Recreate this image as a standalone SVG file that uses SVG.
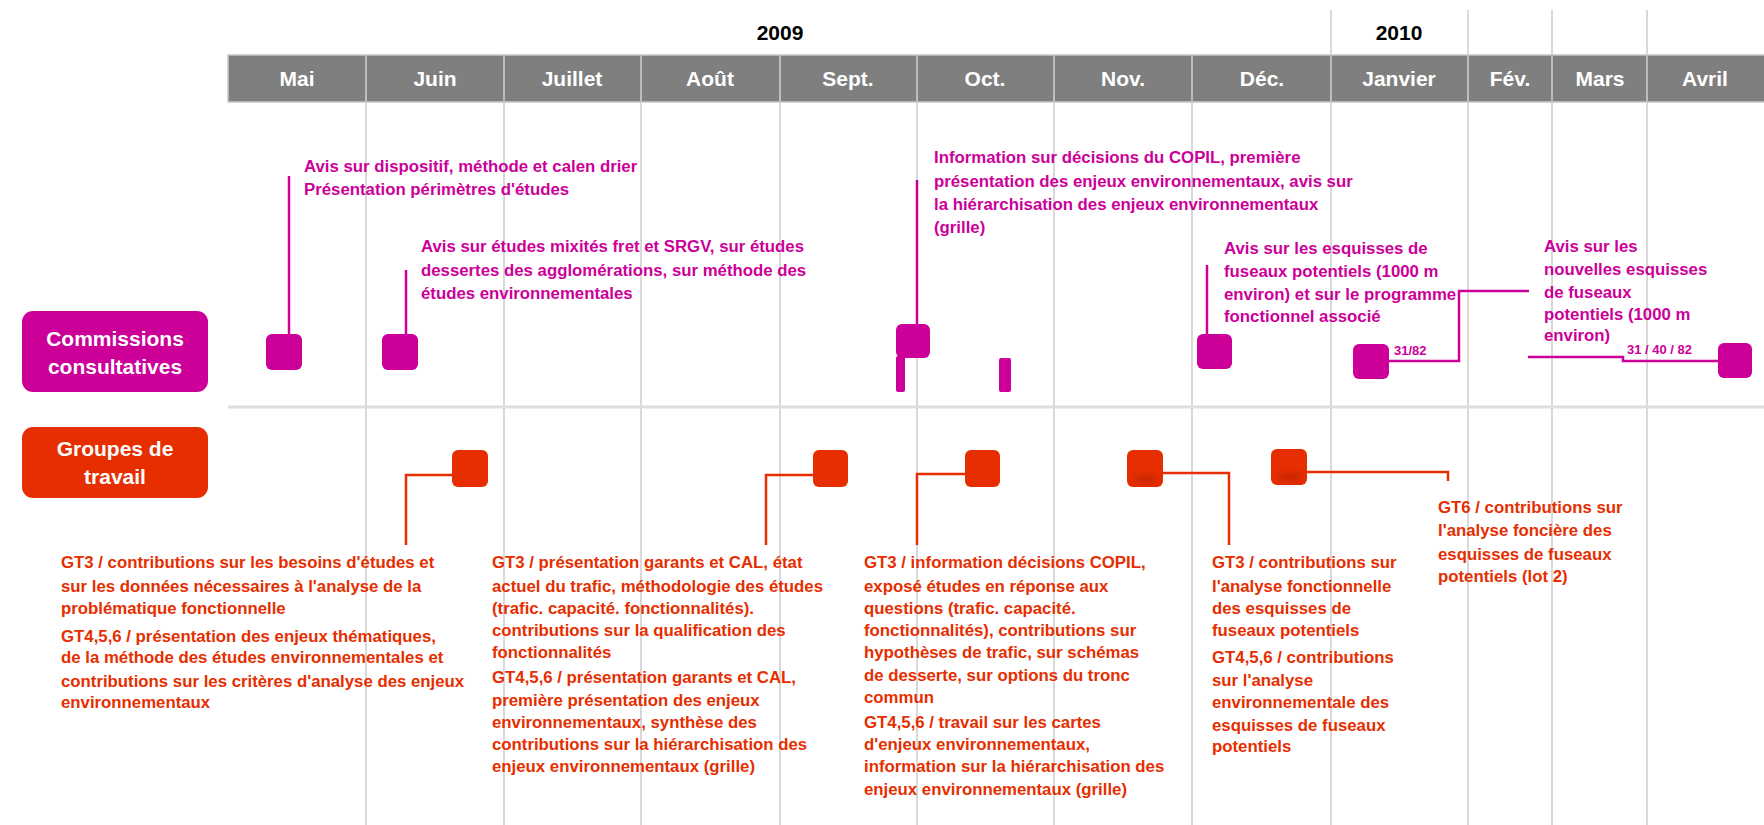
<svg xmlns="http://www.w3.org/2000/svg" width="1764" height="825" viewBox="0 0 1764 825">
<style>
.grid{stroke:#d9d9d9;stroke-width:2;fill:none}
.sep{stroke:#bdbdbd;stroke-width:2}
.mon{font-family:"Liberation Sans",Arial,sans-serif;font-weight:bold;font-size:21px;fill:#ffffff;text-anchor:middle}
.yr{font-family:"Liberation Sans",Arial,sans-serif;font-weight:bold;font-size:21px;fill:#000000;text-anchor:middle}
.lab{font-family:"Liberation Sans",Arial,sans-serif;font-weight:bold;font-size:21px;fill:#ffffff;text-anchor:middle}
.cc{fill:#cc0099}
.gt{fill:#e62e00}
.cct{font-family:"Liberation Sans",Arial,sans-serif;font-weight:bold;font-size:16.8px;fill:#cc0099}
.gtt{font-family:"Liberation Sans",Arial,sans-serif;font-weight:bold;font-size:16.8px;fill:#e62e00}
.small{font-family:"Liberation Sans",Arial,sans-serif;font-weight:bold;font-size:13px;fill:#cc0099}
.ccl{stroke:#cc0099;stroke-width:2.5;fill:none}
.gtl{stroke:#e62e00;stroke-width:2.5;fill:none}
</style>
<defs>
<filter id="blur" x="-50%" y="-50%" width="200%" height="200%"><feGaussianBlur stdDeviation="3"/></filter>
</defs>
<rect width="1764" height="825" fill="#ffffff"/>
<g id="grid">
<line class="grid" x1="366" y1="102" x2="366" y2="825"/>
<line class="grid" x1="504" y1="102" x2="504" y2="825"/>
<line class="grid" x1="641" y1="102" x2="641" y2="825"/>
<line class="grid" x1="780" y1="102" x2="780" y2="825"/>
<line class="grid" x1="917" y1="102" x2="917" y2="825"/>
<line class="grid" x1="1054" y1="102" x2="1054" y2="825"/>
<line class="grid" x1="1192" y1="102" x2="1192" y2="825"/>
<line class="grid" x1="1331" y1="10" x2="1331" y2="825"/>
<line class="grid" x1="1468" y1="10" x2="1468" y2="825"/>
<line class="grid" x1="1552" y1="10" x2="1552" y2="825"/>
<line class="grid" x1="1647" y1="10" x2="1647" y2="825"/>
<line x1="228" y1="407" x2="1764" y2="407" stroke="#dedede" stroke-width="3"/>
</g>
<g id="header">
<rect x="228" y="55" width="1540" height="47" fill="#7f7f7f" stroke="#c8c8c8" stroke-width="1.5"/>
<line class="sep" x1="366" y1="55" x2="366" y2="102"/>
<line class="sep" x1="504" y1="55" x2="504" y2="102"/>
<line class="sep" x1="641" y1="55" x2="641" y2="102"/>
<line class="sep" x1="780" y1="55" x2="780" y2="102"/>
<line class="sep" x1="917" y1="55" x2="917" y2="102"/>
<line class="sep" x1="1054" y1="55" x2="1054" y2="102"/>
<line class="sep" x1="1192" y1="55" x2="1192" y2="102"/>
<line class="sep" x1="1331" y1="55" x2="1331" y2="102"/>
<line class="sep" x1="1468" y1="55" x2="1468" y2="102"/>
<line class="sep" x1="1552" y1="55" x2="1552" y2="102"/>
<line class="sep" x1="1647" y1="55" x2="1647" y2="102"/>
<text class="yr" x="780" y="40">2009</text>
<text class="yr" x="1399" y="40">2010</text>
<text class="mon" x="297" y="86">Mai</text>
<text class="mon" x="435" y="86">Juin</text>
<text class="mon" x="572" y="86">Juillet</text>
<text class="mon" x="710" y="86">Août</text>
<text class="mon" x="848" y="86">Sept.</text>
<text class="mon" x="985" y="86">Oct.</text>
<text class="mon" x="1123" y="86">Nov.</text>
<text class="mon" x="1262" y="86">Déc.</text>
<text class="mon" x="1399" y="86">Janvier</text>
<text class="mon" x="1510" y="86">Fév.</text>
<text class="mon" x="1600" y="86">Mars</text>
<text class="mon" x="1705" y="86">Avril</text>
</g>
<g id="label-cc">
<rect class="cc" x="22" y="311" width="186" height="81" rx="11"/>
<text class="lab" x="115" y="346">Commissions</text>
<text class="lab" x="115" y="374">consultatives</text>
</g>
<g id="label-gt">
<rect class="gt" x="22" y="427" width="186" height="71" rx="11"/>
<text class="lab" x="115" y="456" font-size="20">Groupes de</text>
<text class="lab" x="115" y="484" font-size="20">travail</text>
</g>
<g id="connectors">
<line class="ccl" x1="289" y1="176" x2="289" y2="345"/>
<line class="ccl" x1="406" y1="270" x2="406" y2="352"/>
<line class="ccl" x1="917" y1="180" x2="917" y2="335"/>
<line class="ccl" x1="1207" y1="265" x2="1207" y2="345"/>
<polyline class="ccl" points="1389,361 1459,361 1459,291 1529,291"/>
<polyline class="ccl" points="1528,357 1623,357 1623,361 1718,361"/>
<polyline class="gtl" points="452,475 406,475 406,545"/>
<polyline class="gtl" points="813,475 766,475 766,545"/>
<polyline class="gtl" points="965,474 917,474 917,545"/>
<polyline class="gtl" points="1163,473 1229,473 1229,545"/>
<polyline class="gtl" points="1307,472 1448,472 1448,481"/>
</g>
<g id="cc-mai">
<rect class="cc" x="266" y="334" width="36" height="36" rx="6"/>
<text class="cct" x="304" y="172">Avis sur dispositif, méthode et calen drier</text>
<text class="cct" x="304" y="195">Présentation périmètres d'études</text>
</g>
<g id="cc-juin">
<rect class="cc" x="382" y="334" width="36" height="36" rx="6"/>
<text class="cct" x="421" y="252">Avis sur études mixités fret et SRGV, sur études</text>
<text class="cct" x="421" y="276">dessertes des agglomérations, sur méthode des</text>
<text class="cct" x="421" y="299">études environnementales</text>
</g>
<g id="cc-oct">
<rect class="cc" x="896" y="324" width="34" height="34" rx="6"/>
<rect class="cc" x="896" y="356" width="9" height="36" rx="2"/>
<rect class="cc" x="999" y="358" width="12" height="34" rx="2"/>
<text class="cct" x="934" y="163">Information sur décisions du COPIL, première</text>
<text class="cct" x="934" y="187">présentation des enjeux environnementaux, avis sur</text>
<text class="cct" x="934" y="210">la hiérarchisation des enjeux environnementaux</text>
<text class="cct" x="934" y="233">(grille)</text>
</g>
<g id="cc-dec">
<rect class="cc" x="1197" y="334" width="35" height="35" rx="6"/>
<text class="cct" x="1224" y="254">Avis sur les esquisses de</text>
<text class="cct" x="1224" y="277">fuseaux potentiels (1000 m</text>
<text class="cct" x="1224" y="300">environ) et sur le programme</text>
<text class="cct" x="1224" y="322">fonctionnel associé</text>
</g>
<g id="cc-janvier">
<rect class="cc" x="1353" y="344" width="36" height="35" rx="6"/>
<text class="small" x="1394" y="355">31/82</text>
</g>
<g id="cc-avril">
<rect class="cc" x="1718" y="343" width="34" height="35" rx="6"/>
<text class="small" x="1627" y="354">31 / 40 / 82</text>
<text class="cct" x="1544" y="252">Avis sur les</text>
<text class="cct" x="1544" y="275">nouvelles esquisses</text>
<text class="cct" x="1544" y="298">de fuseaux</text>
<text class="cct" x="1544" y="320">potentiels (1000 m</text>
<text class="cct" x="1544" y="341">environ)</text>
</g>
<g id="gt-juin">
<rect class="gt" x="452" y="450" width="36" height="37" rx="6"/>
<text class="gtt" x="61" y="568">GT3 / contributions sur les besoins d'études et</text>
<text class="gtt" x="61" y="592">sur les données nécessaires à l'analyse de la</text>
<text class="gtt" x="61" y="614">problématique fonctionnelle</text>
<text class="gtt" x="61" y="642">GT4,5,6 / présentation des enjeux thématiques,</text>
<text class="gtt" x="61" y="663">de la méthode des études environnementales et</text>
<text class="gtt" x="61" y="687">contributions sur les critères d'analyse des enjeux</text>
<text class="gtt" x="61" y="708">environnementaux</text>
</g>
<g id="gt-sept">
<rect class="gt" x="813" y="450" width="35" height="37" rx="6"/>
<text class="gtt" x="492" y="568">GT3 / présentation garants et CAL, état</text>
<text class="gtt" x="492" y="592">actuel du trafic, méthodologie des études</text>
<text class="gtt" x="492" y="614">(trafic. capacité. fonctionnalités).</text>
<text class="gtt" x="492" y="636">contributions sur la qualification des</text>
<text class="gtt" x="492" y="658">fonctionnalités</text>
<text class="gtt" x="492" y="683">GT4,5,6 / présentation garants et CAL,</text>
<text class="gtt" x="492" y="706">première présentation des enjeux</text>
<text class="gtt" x="492" y="728">environnementaux, synthèse des</text>
<text class="gtt" x="492" y="750">contributions sur la hiérarchisation des</text>
<text class="gtt" x="492" y="772">enjeux environnementaux (grille)</text>
</g>
<g id="gt-oct">
<rect class="gt" x="965" y="450" width="35" height="37" rx="6"/>
<text class="gtt" x="864" y="568">GT3 / information décisions COPIL,</text>
<text class="gtt" x="864" y="592">exposé études en réponse aux</text>
<text class="gtt" x="864" y="614">questions (trafic. capacité.</text>
<text class="gtt" x="864" y="636">fonctionnalités), contributions sur</text>
<text class="gtt" x="864" y="658">hypothèses de trafic, sur schémas</text>
<text class="gtt" x="864" y="681">de desserte, sur options du tronc</text>
<text class="gtt" x="864" y="703">commun</text>
<text class="gtt" x="864" y="728">GT4,5,6 / travail sur les cartes</text>
<text class="gtt" x="864" y="750">d'enjeux environnementaux,</text>
<text class="gtt" x="864" y="772">information sur la hiérarchisation des</text>
<text class="gtt" x="864" y="795">enjeux environnementaux (grille)</text>
</g>
<g id="gt-nov">
<rect class="gt" x="1127" y="450" width="36" height="37" rx="6"/>
<ellipse cx="1146" cy="479" rx="12" ry="4" fill="#b02000" opacity="0.6" filter="url(#blur)"/>
<text class="gtt" x="1212" y="568">GT3 / contributions sur</text>
<text class="gtt" x="1212" y="592">l'analyse fonctionnelle</text>
<text class="gtt" x="1212" y="614">des esquisses de</text>
<text class="gtt" x="1212" y="636">fuseaux potentiels</text>
<text class="gtt" x="1212" y="663">GT4,5,6 / contributions</text>
<text class="gtt" x="1212" y="686">sur l'analyse</text>
<text class="gtt" x="1212" y="708">environnementale des</text>
<text class="gtt" x="1212" y="731">esquisses de fuseaux</text>
<text class="gtt" x="1212" y="752">potentiels</text>
</g>
<g id="gt-dec">
<rect class="gt" x="1271" y="449" width="36" height="36" rx="6"/>
<ellipse cx="1290" cy="477" rx="12" ry="4" fill="#b02000" opacity="0.6" filter="url(#blur)"/>
<text class="gtt" x="1438" y="513">GT6 / contributions sur</text>
<text class="gtt" x="1438" y="536">l'analyse foncière des</text>
<text class="gtt" x="1438" y="560">esquisses de fuseaux</text>
<text class="gtt" x="1438" y="582">potentiels (lot 2)</text>
</g>
</svg>
